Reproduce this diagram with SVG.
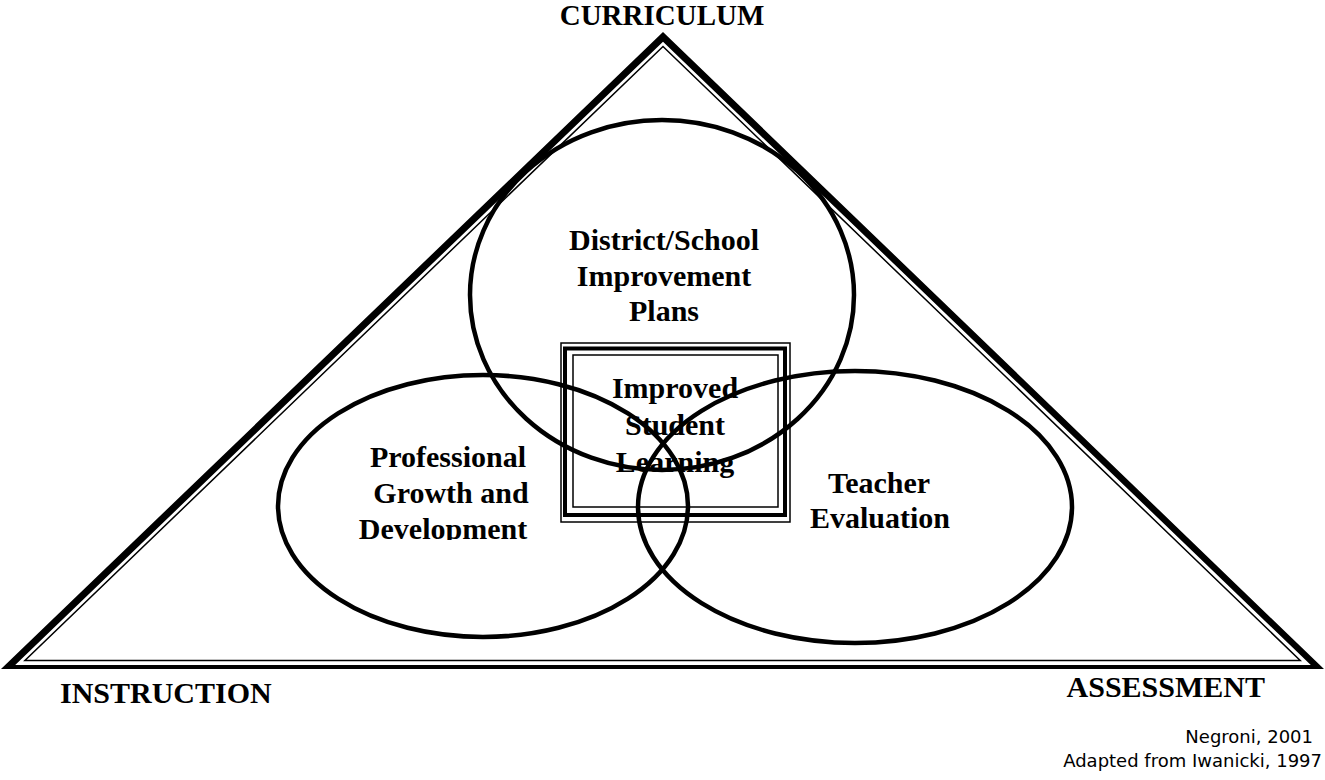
<svg xmlns="http://www.w3.org/2000/svg" width="1325" height="780" viewBox="0 0 1325 780">
  <style>
    .lbl { font-family: "Liberation Serif", "Times New Roman", serif; font-weight: bold; font-size: 30px; fill: #000; text-anchor: middle; }
    .corner { font-family: "Liberation Serif", "Times New Roman", serif; font-weight: bold; font-size: 30px; fill: #000; }
    .note { font-family: "DejaVu Sans", sans-serif; font-size: 18px; fill: #000; text-anchor: end; }
    .ell { fill: none; stroke: #000; stroke-width: 4.5; }
    .thin { fill: none; stroke: #000; stroke-width: 1.5; }
  </style>
  <defs>
    <clipPath id="clipDev">
      <rect x="300" y="500" width="300" height="40"/>
    </clipPath>
  </defs>
  <rect width="1325" height="780" fill="#fff"/>

  <g id="triangle">
    <path d="M663,32 L1,669 L1324,669 Z M663,41.7 L1310.8,665 L15.2,665 Z" fill="#000" fill-rule="evenodd"/>
    <path class="thin" d="M663,46.5 L24.9,660.5 L1300.2,660.5 Z" stroke-linejoin="miter"/>
  </g>

  <g id="improved-student-learning">
    <rect class="thin" x="561" y="343" width="229" height="179"/>
    <rect x="565" y="348.5" width="220" height="166.5" fill="none" stroke="#000" stroke-width="4"/>
    <rect class="thin" x="573" y="355" width="205" height="152"/>
    <text class="lbl" x="675" y="398">Improved</text>
    <text class="lbl" x="675" y="435">Student</text>
    <text class="lbl" x="675" y="472">Learning</text>
  </g>

  <g id="connectors">
  </g>

  <g id="district-school">
    <ellipse class="ell" cx="662" cy="295" rx="192" ry="175"/>
    <text class="lbl" x="664" y="250">District/School</text>
    <text class="lbl" x="664" y="286">Improvement</text>
    <text class="lbl" x="664" y="321">Plans</text>
  </g>

  <g id="professional-growth">
    <ellipse class="ell" cx="483" cy="506" rx="205" ry="131"/>
    <text class="lbl" x="448" y="467">Professional</text>
    <text class="lbl" x="451" y="503">Growth and</text>
    <text class="lbl" x="443" y="539" clip-path="url(#clipDev)">Development</text>
  </g>

  <g id="teacher-evaluation">
    <ellipse class="ell" cx="855" cy="507" rx="217" ry="136"/>
    <text class="lbl" x="879" y="493">Teacher</text>
    <text class="lbl" x="880" y="528">Evaluation</text>
  </g>

  <g id="curriculum">
    <text class="lbl" x="662" y="25" style="font-size:29px">CURRICULUM</text>
  </g>
  <g id="instruction">
    <text class="corner" x="60" y="703">INSTRUCTION</text>
  </g>
  <g id="assessment">
    <text class="corner" x="1265" y="697" text-anchor="end">ASSESSMENT</text>
  </g>

  <g id="credit">
    <text class="note" x="1313" y="743">Negroni, 2001</text>
    <text class="note" x="1322" y="767">Adapted from Iwanicki, 1997</text>
  </g>
</svg>
